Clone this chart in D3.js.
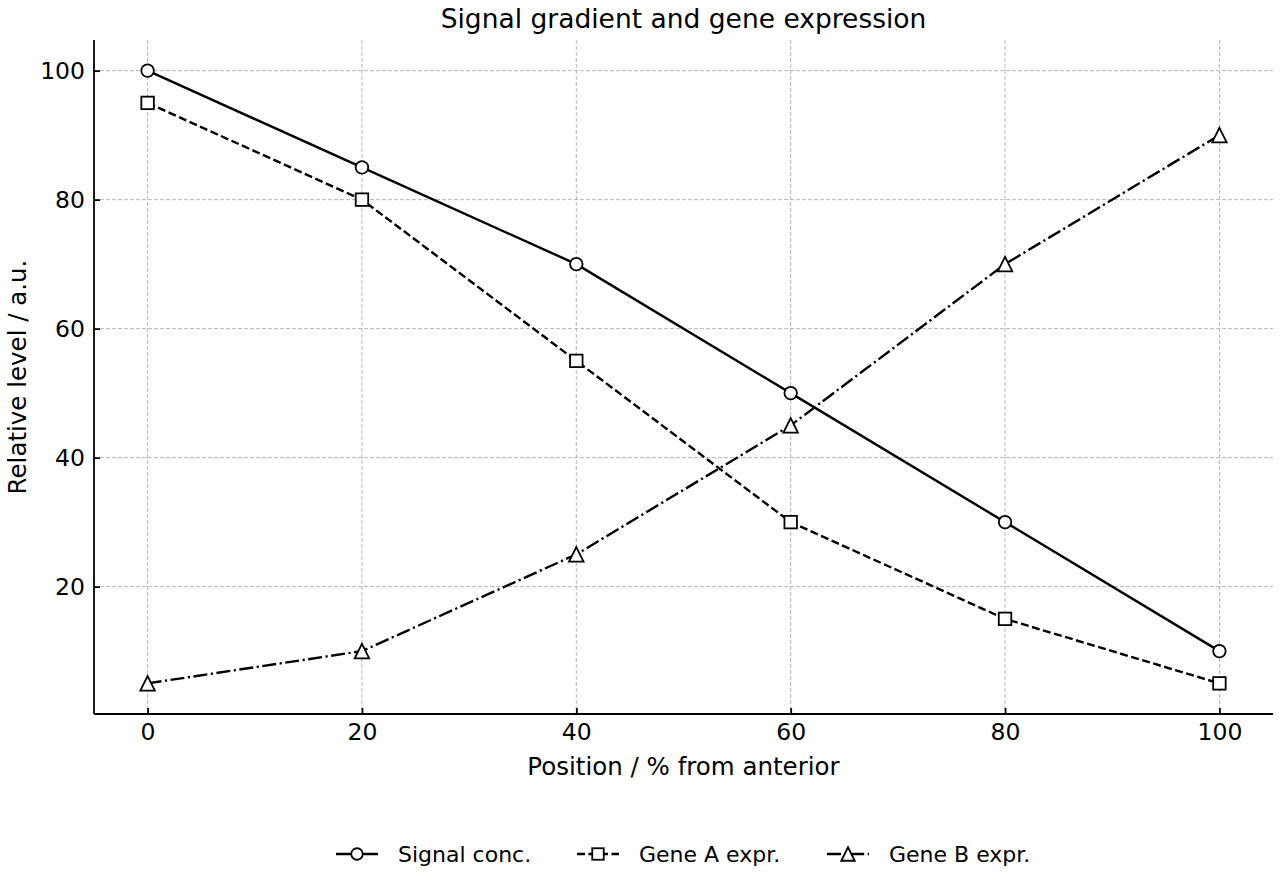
<!DOCTYPE html>
<html>
<head>
<meta charset="utf-8">
<script src="https://cdn.jsdelivr.net/npm/d3@7"></script>
<style>
body { margin: 0; background: #fff; }
text { font-family: "DejaVu Sans", sans-serif; fill: #000; }
</style>
</head>
<body>
<div id="chart"></div>
<script>
var width = 1280, height = 880;

// data
var positions = [0, 20, 40, 60, 80, 100];
var signalConc = [100, 85, 70, 50, 30, 10];
var geneA = [95, 80, 55, 30, 15, 5];
var geneB = [5, 10, 25, 45, 70, 90];
var xTicks = [0, 20, 40, 60, 80, 100];
var yTicks = [20, 40, 60, 80, 100];

var series = [
    {name: "Signal conc.", values: signalConc, dash: null, marker: "circle"},
    {name: "Gene A expr.", values: geneA, dash: "8,3.5", marker: "square"},
    {name: "Gene B expr.", values: geneB, dash: "14,3.5,2.2,3.5", marker: "triangle"}
];

var margin = {top: 40, right: 7, bottom: 166, left: 94};
var plotW = width - margin.left - margin.right,
    plotH = height - margin.top - margin.bottom;

var svg = d3.select("#chart").append("svg")
    .attr("width", width)
    .attr("height", height);

var g = svg.append("g")
    .attr("transform", "translate(" + margin.left + "," + margin.top + ")");

var x = d3.scaleLinear().domain([-5, 105]).range([0, plotW]);
var y = d3.scaleLinear().domain([0.25, 104.75]).range([plotH, 0]);

// grid
g.append("g").selectAll("line")
    .data(xTicks).enter().append("line")
    .attr("x1", d => x(d)).attr("x2", d => x(d))
    .attr("y1", 0).attr("y2", plotH)
    .attr("stroke", "#b0b0b0").attr("stroke-width", 0.9)
    .attr("stroke-dasharray", "4,2");
g.append("g").selectAll("line")
    .data(yTicks).enter().append("line")
    .attr("y1", d => y(d)).attr("y2", d => y(d))
    .attr("x1", 0).attr("x2", plotW)
    .attr("stroke", "#b0b0b0").attr("stroke-width", 0.9)
    .attr("stroke-dasharray", "4,2");

// axes, ticks pointing inward
var xAxis = g.append("g")
    .attr("transform", "translate(0," + plotH + ")")
    .call(d3.axisBottom(x).tickValues(xTicks).tickSize(-6).tickPadding(9));
var yAxis = g.append("g")
    .call(d3.axisLeft(y).tickValues(yTicks).tickSize(-6).tickPadding(9));

[xAxis, yAxis].forEach(function(a) {
    a.attr("font-size", null).attr("font-family", null);
    a.select(".domain").attr("stroke", "#000").attr("stroke-width", 1.8);
    a.selectAll(".tick line").attr("stroke", "#000").attr("stroke-width", 1.8);
    a.selectAll(".tick text").style("font-size", "23.5px").attr("fill", "#000");
});
// drop the outer tick stubs of the domain path
xAxis.select(".domain").attr("d", "M0,0H" + plotW);
yAxis.select(".domain").attr("d", "M0,0V" + plotH);

var line = d3.line()
    .x((d, i) => x(positions[i]))
    .y(d => y(d));

function drawMarker(sel, type, size) {
    if (type === "circle") {
        sel.append("circle").attr("r", size / 2);
    } else if (type === "square") {
        sel.append("rect").attr("x", -size / 2).attr("y", -size / 2)
            .attr("width", size).attr("height", size);
    } else {
        var s = size / 2 + 1;
        sel.append("path").attr("d", "M0," + (-s) + "L" + s + "," + s + "L" + (-s) + "," + s + "Z");
    }
    sel.selectAll("*").attr("fill", "#fff").attr("stroke", "#000").attr("stroke-width", 1.8);
}

series.forEach(function(s) {
    g.append("path")
        .datum(s.values)
        .attr("d", line)
        .attr("fill", "none")
        .attr("stroke", "#000")
        .attr("stroke-width", 2.4)
        .attr("stroke-dasharray", s.dash);
    s.values.forEach(function(v, i) {
        var m = g.append("g")
            .attr("transform", "translate(" + x(positions[i]) + "," + y(v) + ")");
        drawMarker(m, s.marker, 12.5);
    });
});

// title and labels
svg.append("text")
    .attr("x", margin.left + plotW / 2).attr("y", 28)
    .attr("text-anchor", "middle")
    .style("font-size", "26.5px")
    .text("Signal gradient and gene expression");

svg.append("text")
    .attr("x", margin.left + plotW / 2).attr("y", 775)
    .attr("text-anchor", "middle")
    .style("font-size", "24.5px")
    .text("Position / % from anterior");

svg.append("text")
    .attr("transform", "translate(26," + (margin.top + plotH / 2) + ") rotate(-90)")
    .attr("text-anchor", "middle")
    .style("font-size", "24.5px")
    .text("Relative level / a.u.");

// legend
var legendX = [336, 577, 827];
var legend = svg.append("g");
series.forEach(function(s, i) {
    var lg = legend.append("g").attr("transform", "translate(" + legendX[i] + ",854)");
    lg.append("line")
        .attr("x1", 0).attr("x2", 42)
        .attr("stroke", "#000").attr("stroke-width", 2.4)
        .attr("stroke-dasharray", s.dash);
    var m = lg.append("g").attr("transform", "translate(21,0)");
    drawMarker(m, s.marker, 11.5);
    lg.append("text")
        .attr("x", 62).attr("y", 8)
        .style("font-size", "22px")
        .text(s.name);
});
</script>
</body>
</html>
